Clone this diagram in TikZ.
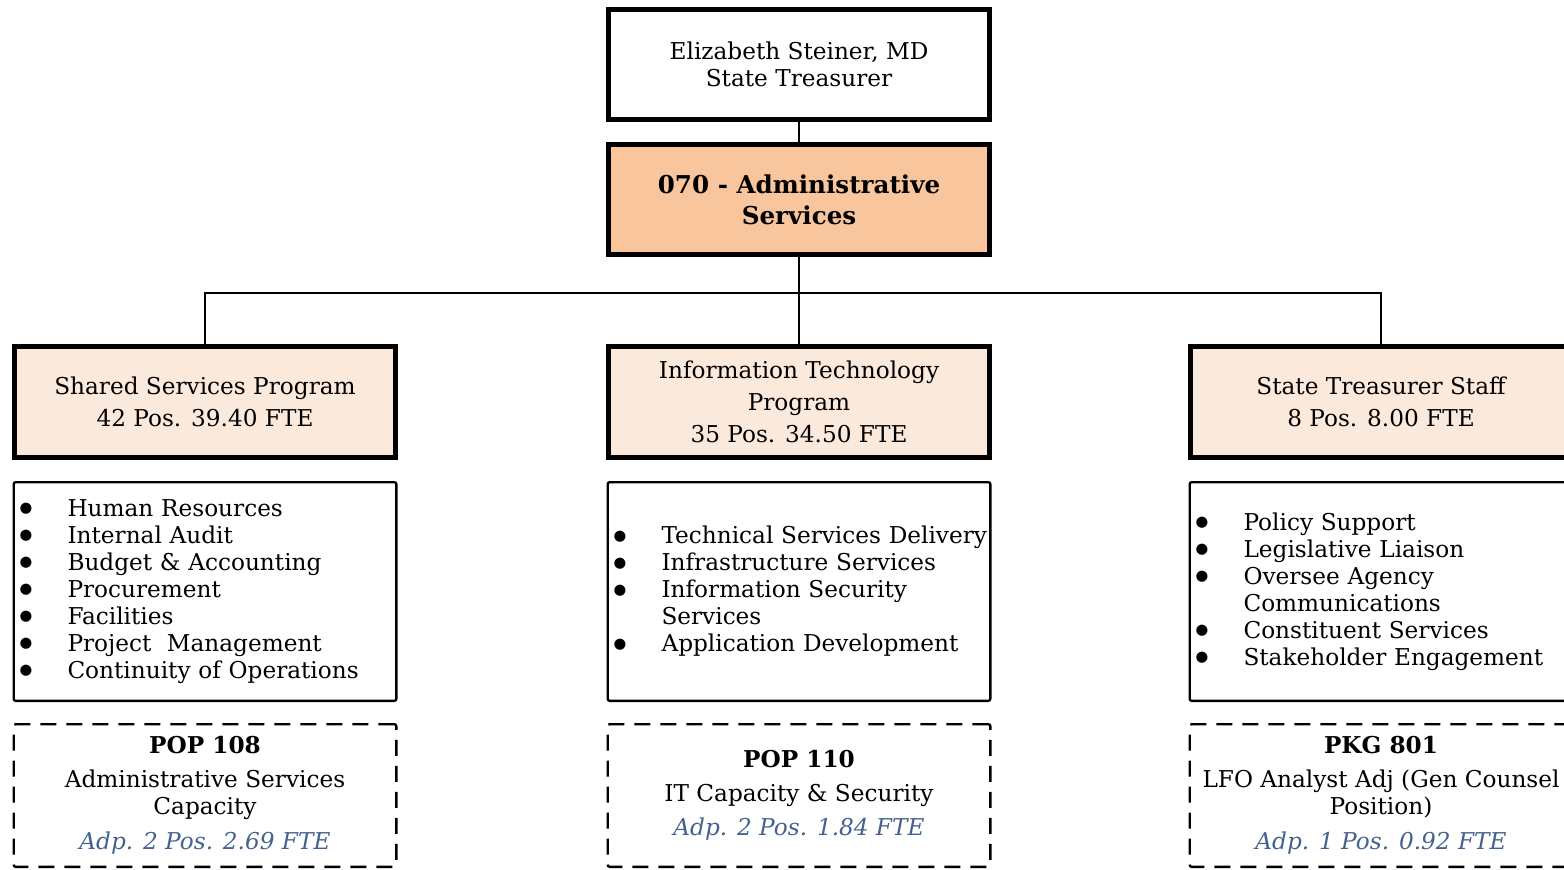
\documentclass[tikz,border=0pt]{standalone}
\usepackage{fontspec}
\setmainfont{DejaVu Serif}
\newfontfamily\simbolos{DejaVu Sans}
\usetikzlibrary{positioning}
\definecolor{colorAdmin}{HTML}{F8C59C}
\definecolor{colorPrograma}{HTML}{FBE9DC}
\definecolor{colorAdoptado}{HTML}{44628F}
\newcommand{\vineta}[1]{\makebox[26pt][l]{\hspace*{2pt}\raisebox{1.8pt}{\simbolos\fontsize{7.3}{7.3}\selectfont ●}}\mbox{#1}}
\newcommand{\sangria}[1]{\hspace*{26pt}\mbox{#1}}
\newcommand{\adoptado}[1]{\textcolor{colorAdoptado}{\itshape #1}}

\begin{document}
\begin{tikzpicture}[x=0.5pt, y=-0.5pt,
        jefe/.style={draw, line width=2.5pt, fill=white, minimum width=190.5pt, minimum height=55pt,
            align=center, font=\fontsize{11.6}{13.5}\selectfont},
        admin/.style={jefe, fill=colorAdmin, font=\bfseries\fontsize{12.3}{15.5}\selectfont},
        programa/.style={jefe, fill=colorPrograma, minimum height=55.5pt, font=\fontsize{11.6}{16}\selectfont},
        lista/.style={draw, line width=1.2pt, rounded corners=1pt, minimum width=191.3pt, minimum height=109.3pt,
            text width=189.5pt, inner xsep=0pt, align=left, font=\fontsize{11.6}{13.5}\selectfont},
        paquete/.style={draw, line width=1.2pt, dash pattern=on 8pt off 5pt, rounded corners=1pt,
            minimum width=191.3pt, minimum height=71.3pt, align=center, font=\fontsize{11.6}{13.5}\selectfont},
        link/.style={line width=0.8pt}
    ]
        \useasboundingbox (0,0) rectangle (1564,869);
        \clip (0,0) rectangle (1564,869);

        \node[jefe] (tesorera) at (799,64.5) {Elizabeth Steiner, MD\\State Treasurer};
        \node[admin, below=10pt of tesorera] (admin) {070 - Administrative\\Services};

        \node[programa, below=43.5pt of admin] (progTI) {Information Technology\\Program\\35 Pos. 34.50 FTE};
        \node[programa, left=104pt of progTI] (progSS) {Shared Services Program\\42 Pos. 39.40 FTE};
        \node[programa, right=98pt of progTI] (progST) {State Treasurer Staff\\8 Pos. 8.00 FTE};

        \node[lista, below=10.5pt of progSS] (listaSS) {\vineta{Human Resources}\\\vineta{Internal Audit}\\
            \vineta{Budget \& Accounting}\\\vineta{Procurement}\\\vineta{Facilities}\\
            \vineta{Project\ \ Management}\\\vineta{Continuity of Operations}};
        \node[lista, below=10.5pt of progTI] (listaTI) {\vineta{Technical Services Delivery}\\
            \vineta{Infrastructure Services}\\\vineta{Information Security}\\\sangria{Services}\\
            \vineta{Application Development}};
        \node[lista, below=10.5pt of progST] (listaST) {\vineta{Policy Support}\\\vineta{Legislative Liaison}\\
            \vineta{Oversee Agency}\\\sangria{Communications}\\\vineta{Constituent Services}\\
            \vineta{Stakeholder Engagement}};

        \node[paquete, below=10.5pt of listaSS] (pop108) {\textbf{POP 108}\\[3.5pt]Administrative Services\\
            Capacity\\[4pt]\adoptado{Adp. 2 Pos. 2.69 FTE}};
        \node[paquete, below=10.5pt of listaTI] (pop110) {\textbf{POP 110}\\[3.5pt]IT Capacity \& Security\\[3.5pt]
            \adoptado{Adp. 2 Pos. 1.84 FTE}};
        \node[paquete, below=10.5pt of listaST] (pkg801) {\textbf{PKG 801}\\[3.5pt]LFO Analyst Adj (Gen Counsel\\
            Position)\\[4pt]\adoptado{Adp. 1 Pos. 0.92 FTE}};

        \draw[link] (tesorera) -- (admin);
        \draw[link] (admin) -- (progTI);
        \draw[link] (progSS.north) -- ++(0,-51) -| (progST.north);
    \end{tikzpicture}
\end{document}
